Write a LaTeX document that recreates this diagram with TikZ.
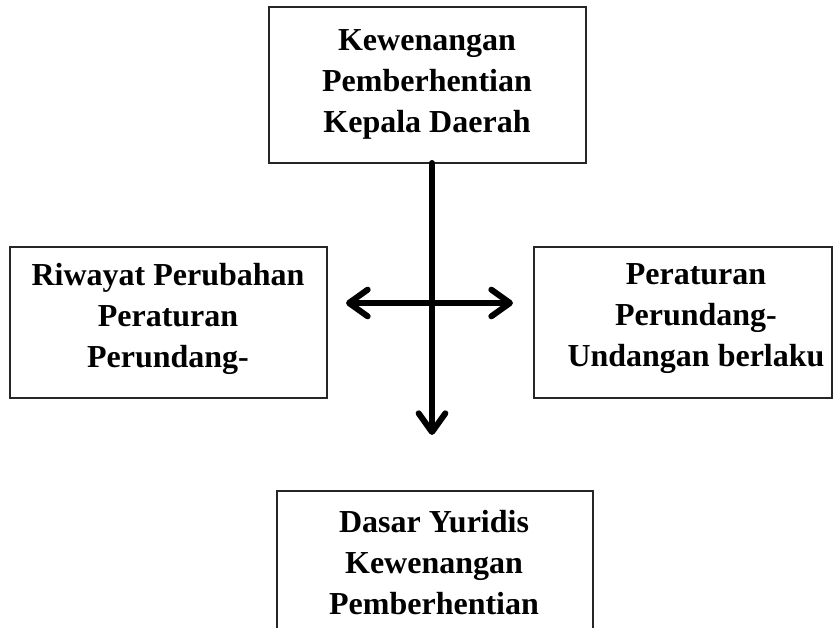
\documentclass[tikz,border=0pt]{standalone}
\usepackage{fontspec}
\setmainfont{Liberation Serif}
\usetikzlibrary{arrows.meta}
\begin{document}
\begin{tikzpicture}[x=0.75pt,y=-0.75pt,
  boxframe/.style={line width=0.9pt, draw=black!85, inner sep=0pt, outer sep=0pt},
  lbl/.style={align=center, inner sep=0pt, font=\fontsize{24}{30.75}\selectfont\bfseries},
  conn/.style={line width=4.5pt, line cap=round, line join=round},
  >={Straight Barb[length=14pt, width=20pt, line cap=round, line join=round]}]
\useasboundingbox (0,0) rectangle (840,628);

% boxes
\node[boxframe, draw, minimum width=237.75pt, minimum height=117pt] (top) at (427.5,85) {};
\node[boxframe, draw, minimum width=237.75pt, minimum height=113.25pt] (left) at (168.5,322.5) {};
\node[boxframe, draw, minimum width=223.5pt, minimum height=113.25pt] (right) at (683,322.5) {};
\node[boxframe, minimum width=237pt, minimum height=111.75pt] (bot) at (435,565.5) {};
\draw[boxframe] (bot.south west) -- (bot.north west) -- (bot.north east) -- (bot.south east);

% labels
\node[lbl] (toptxt) at (427,84) {Kewenangan\\Pemberhentian\\Kepala Daerah};
\node[lbl] (lefttxt) at (168,319) {Riwayat Perubahan\\Peraturan\\Perundang-};
\node[lbl] (righttxt) at (696,319) {Peraturan\\Perundang-\\Undangan berlaku};
\node[lbl] (bottxt) at (434,563) {Dasar Yuridis\\Kewenangan\\Pemberhentian};

% connectors
\coordinate (vs) at (432,163);
\coordinate (ve) at (432,435);
\coordinate (hl) at (346,303);
\coordinate (hr) at (513,303);
\draw[conn, ->] (vs) -- (ve);
\draw[conn, <->] (hl) -- (hr);
\end{tikzpicture}
\end{document}
